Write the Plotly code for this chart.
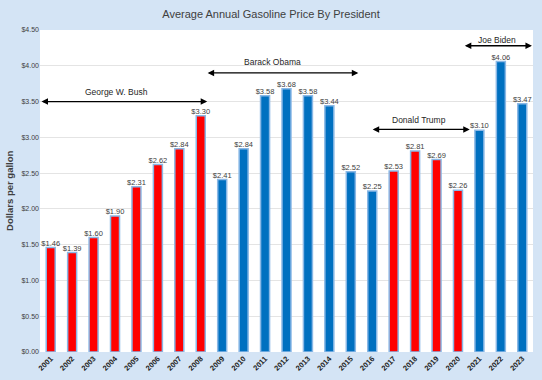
import plotly.graph_objects as go

years = [str(y) for y in range(2001, 2024)]
prices = [1.46, 1.39, 1.60, 1.90, 2.31, 2.62, 2.84, 3.30, 2.41, 2.84, 3.58, 3.68,
          3.58, 3.44, 2.52, 2.25, 2.53, 2.81, 2.69, 2.26, 3.10, 4.06, 3.47]
party = ["R"] * 8 + ["D"] * 8 + ["R"] * 4 + ["D"] * 3
tick_vals = [0, 0.5, 1.0, 1.5, 2.0, 2.5, 3.0, 3.5, 4.0, 4.5]
tick_text = ["$%.2f" % v for v in tick_vals]

# President spans: (name, x start, x end, arrow y, label x, label y)
presidents = [
    ("George W. Bush", -0.5, 7.3, 3.50, 3.05, 3.63),
    ("Barack Obama", 7.25, 14.35, 3.90, 10.35, 4.05),
    ("Donald Trump", 14.95, 19.55, 3.11, 17.2, 3.24),
    ("Joe Biden", 19.25, 22.45, 4.28, 20.8, 4.36),
]

colors = ["#ff0000" if p == "R" else "#0070c0" for p in party]
xs = list(range(len(years)))
FONT = "Liberation Sans, Arial"

fig = go.Figure()
fig.add_trace(go.Bar(
    x=xs, y=prices,
    marker=dict(color=colors, line=dict(color="#8ab8e6", width=1.5)),
    width=0.42,
    hoverinfo="x+y",
))
fig.add_trace(go.Scatter(
    x=xs, y=prices, mode="text",
    text=["$%.2f" % p for p in prices],
    textposition="top center",
    textfont=dict(size=7.5, color="#404040", family=FONT),
    cliponaxis=False, hoverinfo="skip",
))

for name, x0, x1, ya, lx, ly in presidents:
    fig.add_annotation(x=x1, y=ya, ax=x0, ay=ya, xref="x", yref="y", axref="x", ayref="y",
                       showarrow=True, arrowhead=2, arrowside="end+start", arrowsize=1,
                       arrowwidth=1.3, arrowcolor="#000000", text="")
    fig.add_annotation(x=lx, y=ly, xref="x", yref="y", text=name, showarrow=False,
                       font=dict(size=8.5, color="#262626", family=FONT))

fig.add_annotation(x=-0.063, y=0.5, xref="paper", yref="paper", xanchor="center", yanchor="middle",
                   text="<b>Dollars per gallon</b>", textangle=-90, showarrow=False,
                   font=dict(size=9.5, color="#404040", family=FONT))

fig.update_layout(
    width=542, height=380,
    margin=dict(l=40, r=9, t=30, b=28),
    paper_bgcolor="#d4e4f5",
    plot_bgcolor="#ffffff",
    showlegend=False,
    title=dict(text="Average Annual Gasoline Price By President", x=0.5, xanchor="center",
               y=0.962, yanchor="middle",
               font=dict(size=11, color="#404040", family=FONT)),
    xaxis=dict(tickmode="array", tickvals=xs, ticktext=years, tickangle=-45,
               range=[-0.5, 22.5], showgrid=False, zeroline=False, ticks="",
               automargin=False,
               tickfont=dict(size=7.5, color="#222222", family=FONT, weight="bold")),
    yaxis=dict(range=[0, 4.5], tickmode="array", tickvals=tick_vals, ticktext=tick_text,
               showgrid=True, gridcolor="#e4e4e4", gridwidth=1, zeroline=False,
               automargin=False,
               tickfont=dict(size=7, color="#404040", family=FONT)),
)

fig.write_html("out.html", config={"displayModeBar": False},
               post_script="document.body.style.margin='0';document.body.style.overflow='hidden';")
